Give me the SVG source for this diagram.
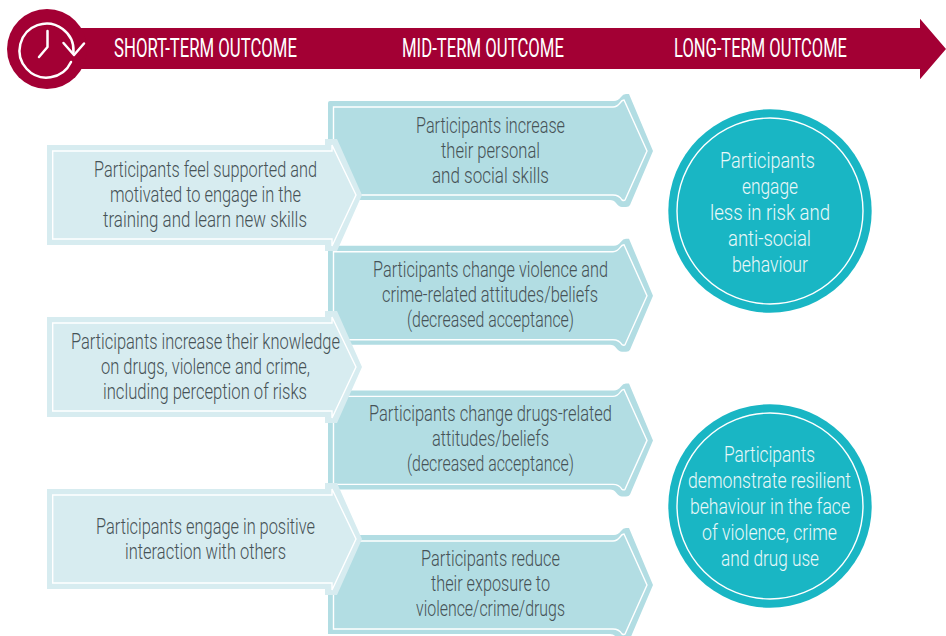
<svg xmlns="http://www.w3.org/2000/svg" xmlns:xlink="http://www.w3.org/1999/xlink" width="946" height="636" viewBox="0 0 946 636">
<style>
text{font-family:"Roboto","Liberation Sans",sans-serif;text-anchor:middle}
.b{font-size:22px;font-weight:300;fill:#465256}
.c{font-size:22px;font-weight:300;fill:#eaf8f9}
.h{font-size:25px;font-weight:400;fill:#fff}
.in{fill:none;stroke:#fff;stroke-width:1.4}
</style>
<defs>
<g id="dark"><path d="M330,101H614Q618,101 621,97Q623,94 626,94H629L653,151L630,205Q629,207 626,207H622Q619,207 616,203Q614,200 610,200H328V103Q328,101 330,101Z" fill="#b2dde3"/><path class="in" d="M333.500,107H613Q617,107 620,103Q622,100 624,100L647,151L625,200Q624,201 622,200Q619,195 613,195H333.500Z"/></g>
<g id="light"><path d="M47,145H325V139H337L362,195L337,251H325V245H47Z" fill="#d7ecf0"/><path class="in" d="M52.700,151H332V145L356,195L332,246V239H52.700Z"/></g>
</defs>
<g id="connectors"></g>
<g id="header">
<path d="M47,28H920V18.700L946,49L920,79.300V69H47Z" fill="#a30034"/>
<circle cx="47" cy="49" r="40" fill="#a30034"/>
<g fill="none" stroke="#fff" stroke-width="2.500" stroke-linecap="round" stroke-linejoin="round"><path d="M73.500,52A27,27 0 1 0 71,62"/><path d="M63.500,43L74,55L84,43.500"/><path d="M47.500,31V47L39,57"/></g>
<text class="h" x="205.500" y="57" textLength="183" lengthAdjust="spacingAndGlyphs">SHORT-TERM OUTCOME</text>
<text class="h" x="483" y="57" textLength="162" lengthAdjust="spacingAndGlyphs">MID-TERM OUTCOME</text>
<text class="h" x="760.500" y="57" textLength="173" lengthAdjust="spacingAndGlyphs">LONG-TERM OUTCOME</text>
</g>
<g id="mid1"><use href="#dark"/>
<text class="b" x="490.500" y="133" textLength="149" lengthAdjust="spacingAndGlyphs">Participants increase</text>
<text class="b" x="490.500" y="158" textLength="99" lengthAdjust="spacingAndGlyphs">their personal</text>
<text class="b" x="490.500" y="183" textLength="117" lengthAdjust="spacingAndGlyphs">and social skills</text></g>
<g id="mid2"><use href="#dark" y="144.700"/>
<text class="b" x="490.500" y="277" textLength="235" lengthAdjust="spacingAndGlyphs">Participants change violence and</text>
<text class="b" x="490" y="302" textLength="216" lengthAdjust="spacingAndGlyphs">crime-related attitudes/beliefs</text>
<text class="b" x="490.500" y="327" textLength="167" lengthAdjust="spacingAndGlyphs">(decreased acceptance)</text></g>
<g id="mid3"><use href="#dark" y="289.400"/>
<text class="b" x="490.500" y="421" textLength="243" lengthAdjust="spacingAndGlyphs">Participants change drugs-related</text>
<text class="b" x="490.500" y="446" textLength="117" lengthAdjust="spacingAndGlyphs">attitudes/beliefs</text>
<text class="b" x="490.500" y="471" textLength="167" lengthAdjust="spacingAndGlyphs">(decreased acceptance)</text></g>
<g id="mid4"><use href="#dark" y="434"/>
<text class="b" x="490.500" y="566" textLength="139" lengthAdjust="spacingAndGlyphs">Participants reduce</text>
<text class="b" x="490.500" y="591" textLength="119" lengthAdjust="spacingAndGlyphs">their exposure to</text>
<text class="b" x="490.500" y="616" textLength="149" lengthAdjust="spacingAndGlyphs">violence/crime/drugs</text></g>
<g id="short1"><use href="#light"/>
<text class="b" x="205.500" y="177" textLength="223" lengthAdjust="spacingAndGlyphs">Participants feel supported and</text>
<text class="b" x="205.500" y="202" textLength="191" lengthAdjust="spacingAndGlyphs">motivated to engage in the</text>
<text class="b" x="205" y="227" textLength="204" lengthAdjust="spacingAndGlyphs">training and learn new skills</text></g>
<g id="short2"><use href="#light" y="172"/>
<text class="b" x="205.500" y="349" textLength="269" lengthAdjust="spacingAndGlyphs">Participants increase their knowledge</text>
<text class="b" x="205.500" y="374" textLength="209" lengthAdjust="spacingAndGlyphs">on drugs, violence and crime,</text>
<text class="b" x="205" y="399" textLength="204" lengthAdjust="spacingAndGlyphs">including perception of risks</text></g>
<g id="short3"><use href="#light" y="344"/>
<text class="b" x="205.500" y="534" textLength="219" lengthAdjust="spacingAndGlyphs">Participants engage in positive</text>
<text class="b" x="205.500" y="559" textLength="161" lengthAdjust="spacingAndGlyphs">interaction with others</text></g>
<g id="long1"><circle cx="770" cy="211" r="101.700" fill="#19b6c4"/><circle cx="770" cy="211" r="93" fill="none" stroke="#fff" stroke-width="1.400"/>
<text class="c" x="767.500" y="168" textLength="95" lengthAdjust="spacingAndGlyphs">Participants</text>
<text class="c" x="770" y="194" textLength="56" lengthAdjust="spacingAndGlyphs">engage</text>
<text class="c" x="770" y="220" textLength="120" lengthAdjust="spacingAndGlyphs">less in risk and</text>
<text class="c" x="769.500" y="246" textLength="83" lengthAdjust="spacingAndGlyphs">anti-social</text>
<text class="c" x="770" y="272" textLength="76" lengthAdjust="spacingAndGlyphs">behaviour</text></g>
<g id="long2"><circle cx="770" cy="506" r="101.700" fill="#19b6c4"/><circle cx="770" cy="506" r="93" fill="none" stroke="#fff" stroke-width="1.400"/>
<text class="c" x="769.500" y="462" textLength="91" lengthAdjust="spacingAndGlyphs">Participants</text>
<text class="c" x="769.500" y="488" textLength="163" lengthAdjust="spacingAndGlyphs">demonstrate resilient</text>
<text class="c" x="770" y="514" textLength="160" lengthAdjust="spacingAndGlyphs">behaviour in the face</text>
<text class="c" x="769.500" y="540" textLength="135" lengthAdjust="spacingAndGlyphs">of violence, crime</text>
<text class="c" x="770" y="566" textLength="98" lengthAdjust="spacingAndGlyphs">and drug use</text></g>
</svg>
